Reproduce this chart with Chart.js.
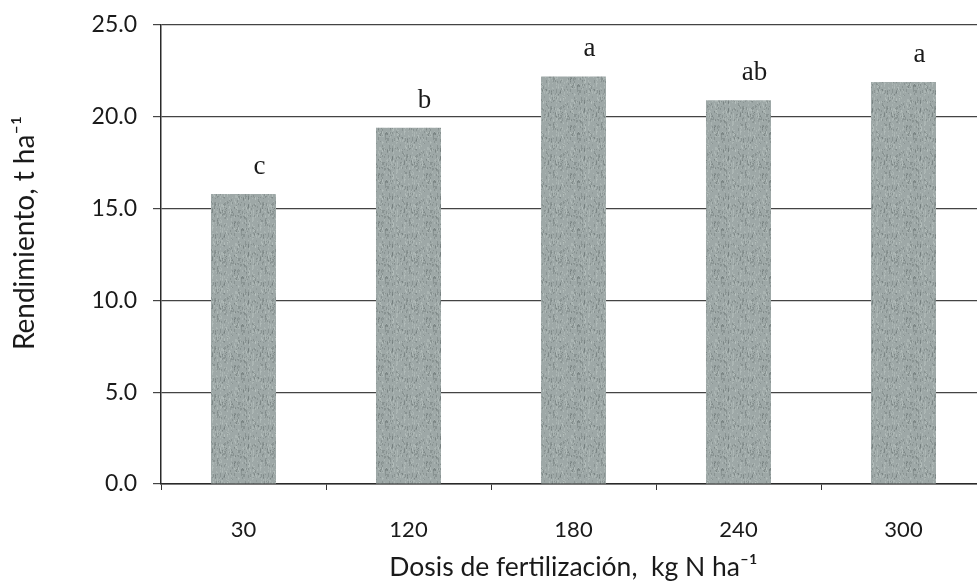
<!DOCTYPE html>
<html>
<head>
<meta charset="utf-8">
<script src="https://cdn.jsdelivr.net/npm/chart.js@4/dist/chart.umd.min.js"></script>
<style>
  html, body { margin: 0; padding: 0; background: #ffffff; overflow: hidden; }
  #wrap { width: 990px; height: 583px; }
</style>
</head>
<body>
<div id="wrap"><canvas id="c" width="990" height="583"></canvas></div>
<script>
// ---- data ----
const categories = ["30", "120", "180", "240", "300"];
const yieldValues = [15.8, 19.4, 22.2, 20.9, 21.9];
const letters = ["c", "b", "a", "ab", "a"];
const yTicks = [0, 5, 10, 15, 20, 25];

const sansFont = "Lato, 'Open Sans', sans-serif";
const serifFont = "'Liberation Serif', 'DejaVu Serif', serif";

// speckled grey fill imitating the scanned bar texture (style only)
function makeTexture() {
  const c = document.createElement('canvas');
  c.width = 48; c.height = 48;
  const g = c.getContext('2d');
  g.fillStyle = '#9ea8a7';
  g.fillRect(0, 0, 48, 48);
  let s = 12345;
  const rnd = () => { s = (s * 1103515245 + 12345) & 0x7fffffff; return s / 0x7fffffff; };
  for (let i = 0; i < 500; i++) {
    const x = Math.floor(rnd() * 48), y = Math.floor(rnd() * 48);
    const dark = rnd() < 0.5;
    g.fillStyle = dark ? 'rgba(105,115,115,0.4)' : 'rgba(190,200,198,0.4)';
    g.fillRect(x, y, 1, 1 + Math.floor(rnd() * 3));
  }
  return g.createPattern(c, 'repeat');
}

const letterPlugin = {
  id: 'letters',
  afterDatasetsDraw(chart) {
    const ctx = chart.ctx;
    const meta = chart.getDatasetMeta(0);
    ctx.save();
    ctx.fillStyle = '#1a1a1a';
    ctx.font = "27px " + serifFont;
    ctx.textAlign = 'center';
    ctx.textBaseline = 'alphabetic';
    meta.data.forEach((bar, i) => {
      ctx.fillText(letters[i], bar.x + 16, bar.y - 20);
    });
    ctx.restore();
  }
};

Chart.defaults.devicePixelRatio = 1;
new Chart(document.getElementById('c'), {
  type: 'bar',
  data: {
    labels: categories,
    datasets: [{
      data: yieldValues,
      backgroundColor: makeTexture(),
      borderWidth: 0,
      categoryPercentage: 1,
      barPercentage: 0.394
    }]
  },
  options: {
    responsive: false,
    animation: false,
    layout: { padding: { left: 8, top: 25, right: 4, bottom: 0 } },
    plugins: { legend: { display: false }, tooltip: { enabled: false } },
    scales: {
      x: {
        grid: { offset: true, drawOnChartArea: false, drawTicks: true, tickLength: 6, color: '#333', lineWidth: 1 },
        border: { color: '#2a2a2a', width: 1.5 },
        ticks: { color: '#1a1a1a', font: { family: sansFont, size: 22 }, padding: 27 },
        title: { display: true, text: 'Dosis de fertilización,  kg N ha\u207B\u00B9', color: '#1a1a1a', font: { family: sansFont, size: 26.5 }, padding: 0 },
        afterFit(scale) { scale.height = 99; scale.paddingLeft = 0; scale.paddingRight = 0; }
      },
      y: {
        min: 0, max: 25,
        afterBuildTicks(scale) { scale.ticks = yTicks.map(v => ({ value: v })); },
        grid: { color: '#444', lineWidth: 1.2, tickLength: 8 },
        border: { color: '#2a2a2a', width: 1.5 },
        ticks: { color: '#1a1a1a', font: { family: sansFont, size: 23 }, padding: 16, callback: v => Number(v).toFixed(1) },
        title: { display: true, text: '      Rendimiento, t ha\u207B\u00B9', color: '#1a1a1a', font: { family: sansFont, size: 28 }, padding: 0 },
        afterFit(scale) { scale.width = 153; scale.paddingTop = 0; scale.paddingBottom = 0; }
      }
    }
  },
  plugins: [letterPlugin]
});
</script>
</body>
</html>
